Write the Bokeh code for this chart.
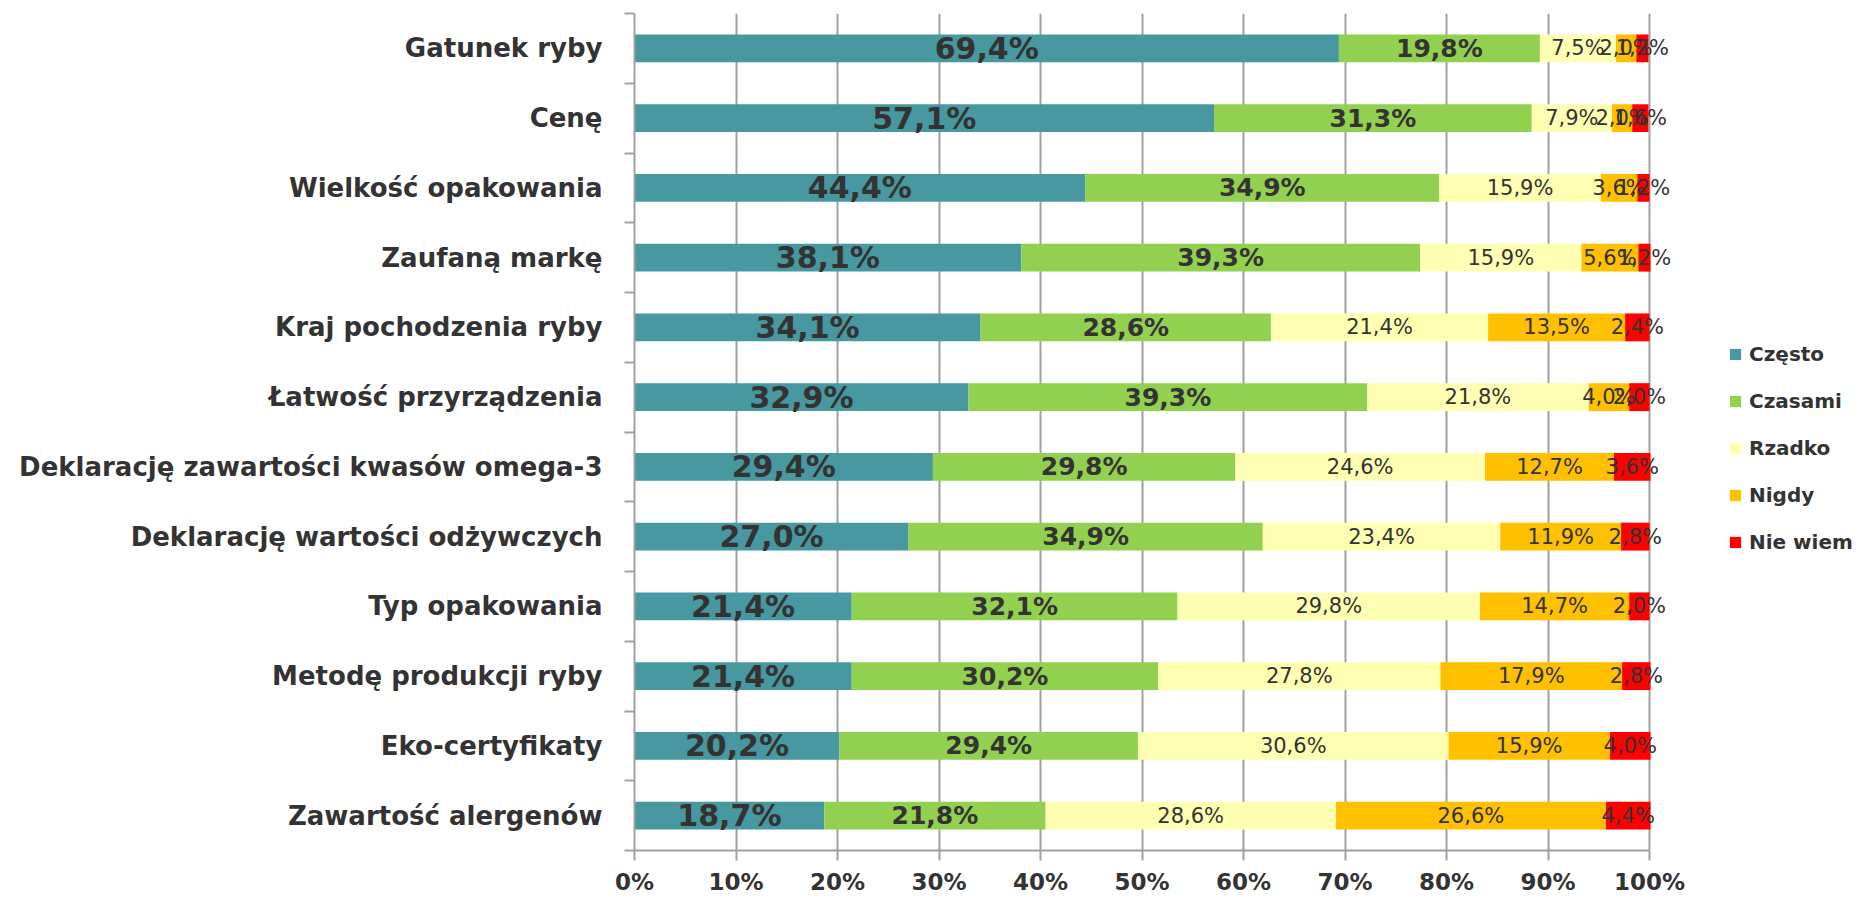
from bokeh.plotting import figure
from bokeh.models import (Range1d, LinearAxis, FixedTicker, CustomJSTickFormatter,
                          ColumnDataSource, Legend, LegendItem, LabelSet, Grid)
from bokeh.core.properties import value
from bokeh.embed import file_html
from bokeh.resources import INLINE

categories = ["Gatunek ryby", "Cenę", "Wielkość opakowania", "Zaufaną markę",
              "Kraj pochodzenia ryby", "Łatwość przyrządzenia",
              "Deklarację zawartości kwasów omega-3", "Deklarację wartości odżywczych",
              "Typ opakowania", "Metodę produkcji ryby", "Eko-certyfikaty",
              "Zawartość alergenów"]
czesto = [69.4, 57.1, 44.4, 38.1, 34.1, 32.9, 29.4, 27.0, 21.4, 21.4, 20.2, 18.7]
czasami = [19.8, 31.3, 34.9, 39.3, 28.6, 39.3, 29.8, 34.9, 32.1, 30.2, 29.4, 21.8]
rzadko = [7.5, 7.9, 15.9, 15.9, 21.4, 21.8, 24.6, 23.4, 29.8, 27.8, 30.6, 28.6]
nigdy = [2.0, 2.0, 3.6, 5.6, 13.5, 4.0, 12.7, 11.9, 14.7, 17.9, 15.9, 26.6]
nie_wiem = [1.2, 1.6, 1.2, 1.2, 2.4, 2.0, 3.6, 2.8, 2.0, 2.8, 4.0, 4.4]
series_names = ["Często", "Czasami", "Rzadko", "Nigdy", "Nie wiem"]
series_values = [czesto, czasami, rzadko, nigdy, nie_wiem]
series_colors = ["#4798A0", "#92D050", "#FFFFB3", "#FFC000", "#FF0000"]
x_ticks = [0, 10, 20, 30, 40, 50, 60, 70, 80, 90, 100]
x_tick_labels = ["0%", "10%", "20%", "30%", "40%", "50%", "60%", "70%", "80%", "90%", "100%"]

FONT = "DejaVu Sans"
TXT = "#333333"
GRID = "#A0A0A0"

W, H = 1864, 898
LEFT, TOP, BOTTOM = 634, 13, 48
PX_PER_100 = 1015  # pixel width of the 0..100% span
x_end = 100.0 * (W - LEFT) / PX_PER_100

n = len(categories)
ypos = [n - 1 - i for i in range(n)]          # first category on top
edges = [k - 0.5 for k in range(n + 1)]

p = figure(width=W, height=H, output_backend="svg", toolbar_location=None,
           x_range=Range1d(0, x_end), y_range=Range1d(-0.5, n - 0.5),
           y_axis_location=None, x_axis_location=None,
           min_border_left=LEFT, min_border_right=0, min_border_top=TOP, min_border_bottom=BOTTOM)
p.outline_line_color = None
p.background_fill_color = "white"
p.border_fill_color = "white"
p.xgrid.visible = False
p.ygrid.visible = False

# x axis
xax = LinearAxis(ticker=FixedTicker(ticks=x_ticks), bounds=(0, 100))
xax.major_label_overrides = {t: l for t, l in zip(x_ticks, x_tick_labels)}
xax.axis_line_color = GRID
xax.axis_line_width = 2
xax.major_tick_line_color = GRID
xax.major_tick_line_width = 2
xax.major_tick_in = 0
xax.major_tick_out = 10
xax.minor_tick_line_color = None
xax.major_label_text_font = FONT
xax.major_label_text_font_style = "bold"
xax.major_label_text_font_size = "23px"
xax.major_label_text_color = TXT
xax.major_label_standoff = 8
p.add_layout(xax, "below")

# y axis: boundary ticks
eax = LinearAxis(ticker=FixedTicker(ticks=edges), formatter=CustomJSTickFormatter(code="return ''"))
eax.axis_line_color = GRID
eax.axis_line_width = 2
eax.major_tick_line_color = GRID
eax.major_tick_line_width = 2
eax.major_tick_in = 0
eax.major_tick_out = 10
eax.minor_tick_line_color = None
eax.major_label_standoff = 0
p.add_layout(eax, "left")

# y axis: category labels
cax = LinearAxis(ticker=FixedTicker(ticks=ypos))
cax.major_label_overrides = {y: c for y, c in zip(ypos, categories)}
cax.axis_line_color = None
cax.major_tick_line_color = None
cax.minor_tick_line_color = None
cax.major_tick_out = 0
cax.major_tick_in = 0
cax.major_label_text_font = FONT
cax.major_label_text_font_style = "bold"
cax.major_label_text_font_size = "26px"
cax.major_label_text_color = TXT
cax.major_label_standoff = 22
p.add_layout(cax, "left")

g = Grid(dimension=0, ticker=FixedTicker(ticks=x_ticks), grid_line_color=GRID, grid_line_width=2)
p.add_layout(g)

label_sizes = ["30px", "25px", "21px", "21px", "21px"]
label_styles = ["bold", "bold", "normal", "normal", "normal"]

left = [0.0] * n
items = []
label_sets = []
for name, vals, col, fs, st in zip(series_names, series_values, series_colors, label_sizes, label_styles):
    right = [l + v for l, v in zip(left, vals)]
    src = ColumnDataSource(dict(
        y=ypos, left=left, right=right,
        mid=[(l + r) / 2 for l, r in zip(left, right)],
        label=[f"{v:.1f}%".replace(".", ",") for v in vals]))
    r = p.hbar(y="y", left="left", right="right", height=0.4, source=src,
               fill_color=col, line_color=None)
    items.append(LegendItem(label=name, renderers=[r]))
    ls = LabelSet(x="mid", y="y", text="label", source=src, text_align="center",
                  text_baseline="middle", text_font_size=value(fs), text_font_style=value(st),
                  text_color=TXT, text_font=value(FONT))
    label_sets.append(ls)
    left = right

for ls in label_sets:
    p.add_layout(ls)

legend = Legend(items=items, location=(1094, 296))
legend.glyph_width = 14
legend.glyph_height = 14
legend.label_text_font = FONT
legend.label_text_font_style = "bold"
legend.label_text_font_size = "20px"
legend.label_text_color = TXT
legend.label_standoff = 7
legend.spacing = 23
legend.padding = 0
legend.margin = 0
legend.border_line_color = None
legend.background_fill_alpha = 0
p.add_layout(legend)

open("out.html", "w").write(file_html(p, INLINE))
